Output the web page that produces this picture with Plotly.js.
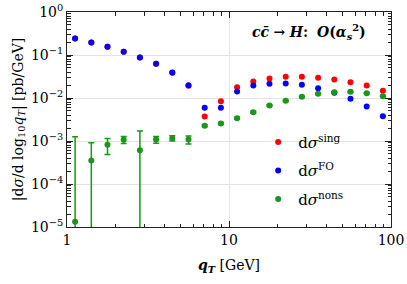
<!DOCTYPE html>
<html>
<head>
<meta charset="utf-8">
<script src="https://cdn.plot.ly/plotly-3.0.1.min.js"></script>
<style>html,body{margin:0;padding:0;background:#fff;}#chart{width:407px;height:284px;}</style>
</head>
<body>
<div id="chart"></div>
<script>
// bin centres in qT [GeV]
var qT = [1.122, 1.413, 1.778, 2.239, 2.818, 3.548, 4.467, 5.623, 7.079, 8.913,
          11.22, 14.13, 17.78, 22.39, 28.18, 35.48, 44.67, 56.23, 70.79, 89.13];
// dsigma^sing
var sing = [0.242, 0.195, 0.155, 0.119, 0.0875, 0.0624, 0.0385, 0.0193, 0.00372, 0.00843,
            0.0178, 0.0242, 0.0284, 0.0311, 0.0311, 0.0295, 0.0269, 0.0233, 0.0195, 0.0147];
// dsigma^FO
var fo = [0.242, 0.195, 0.155, 0.119, 0.0875, 0.0624, 0.0392, 0.0199, 0.00592, 0.00592,
          0.0142, 0.0195, 0.0214, 0.0217, 0.0203, 0.0169, 0.0132, 0.00958, 0.00634, 0.00378];
// dsigma^nons and its uncertainty
var nons = [1.32e-5, 3.52e-4, 8.16e-4, 1.07e-3, 6.11e-4, 1.08e-3, 1.16e-3, 1.08e-3, 2.26e-3, 2.55e-3,
            3.39e-3, 4.68e-3, 6.70e-3, 8.61e-3, 0.01067, 0.01253, 0.01365, 0.01393, 0.01294, 0.01101];
var nonsErr = [1.24e-3, 5.6e-4, 3.3e-4, 2.0e-4, 1.09e-3, 1.9e-4, 1.6e-4, 2.3e-4, 1.2e-4, 1.3e-4,
               2.0e-4, 2.6e-4, 2.8e-4, 3.2e-4, 3.6e-4, 4.0e-4, 4.2e-4, 4.2e-4, 4.0e-4, 3.6e-4];

var xTickVals = [1, 10, 100];
var xTickText = ['1', '10', '100'];
var yTickVals = [1, 0.1, 0.01, 0.001, 1e-4, 1e-5];
var yTickText = ['10<sup>0</sup>', '10<sup>\u22121</sup>', '10<sup>\u22122</sup>',
                 '10<sup>\u22123</sup>', '10<sup>\u22124</sup>', '10<sup>\u22125</sup>'];

function minorVals(lo, hi) {
  var v = [];
  for (var e = lo; e < hi; e++) for (var m = 2; m <= 9; m++) v.push(m * Math.pow(10, e));
  return v;
}

var FONT = 'DejaVu Serif';
var RED = '#ff0000', BLUE = '#0000ff', GREEN = '#189818';

var traces = [
  {x: qT, y: sing, type: 'scatter', mode: 'markers', name: 'd<i>σ</i><sup>sing</sup>',
   legendgroup: 'a', marker: {color: RED, size: 6}},
  {x: qT, y: fo, type: 'scatter', mode: 'markers', name: 'd<i>σ</i><sup>FO</sup>',
   legendgroup: 'b', marker: {color: BLUE, size: 6}},
  {x: qT, y: nons, type: 'scatter', mode: 'markers', name: 'd<i>σ</i><sup>nons</sup>',
   legendgroup: 'c', marker: {color: GREEN, size: 6},
   error_y: {type: 'data', array: nonsErr, symmetric: true, color: GREEN, thickness: 1.5, width: 3}}
];

var axisCommon = {
  type: 'log', showline: true, linecolor: '#222', linewidth: 1, mirror: 'allticks',
  ticks: 'inside', ticklen: 6, tickcolor: '#222', tickwidth: 1,
  showgrid: true, gridcolor: '#e3e3e3', gridwidth: 1, zeroline: false,
  tickmode: 'array', tickfont: {family: FONT, size: 14, color: '#000'}
};

var layout = {
  width: 407, height: 284,
  margin: {l: 67, r: 16, t: 12, b: 57},
  paper_bgcolor: '#fff', plot_bgcolor: '#fff',
  font: {family: FONT, color: '#000'},
  showlegend: true,
  legend: {x: 0.59, y: 0.471, xanchor: 'left', yanchor: 'top', bgcolor: 'rgba(0,0,0,0)',
           borderwidth: 0, tracegroupgap: 6, font: {family: FONT, size: 15, color: '#000'}},
  xaxis: Object.assign({}, axisCommon, {
    range: [0, 2], tickvals: xTickVals, ticktext: xTickText,
    minor: {tickmode: 'array', tickvals: minorVals(0, 2), ticks: 'inside', ticklen: 3.5,
            tickcolor: '#222', showgrid: false},
    title: {text: '<b><i>q<sub>T</sub></i></b> [GeV]', font: {family: FONT, size: 14, color: '#000'}, standoff: 13}
  }),
  yaxis: Object.assign({}, axisCommon, {
    range: [-5, 0], tickvals: yTickVals, ticktext: yTickText,
    minor: {tickmode: 'array', tickvals: minorVals(-5, 0), ticks: 'inside', ticklen: 3.5,
            tickcolor: '#222', showgrid: false},
    title: {text: '|d<i>σ</i>/d log<sub>10</sub><i>q<sub>T</sub></i>| [pb/GeV]',
            font: {family: FONT, size: 14, color: '#000'}, standoff: 4}
  }),
  annotations: [{
    xref: 'paper', yref: 'paper', x: 0.93, y: 0.907, xanchor: 'right', yanchor: 'middle',
    showarrow: false, font: {family: FONT, size: 14, color: '#000'},
    text: '<b><i>c</i></b><b><i>c\u0304</i></b> <b>\u2192</b> <b><i>H</i>:</b>  <b><i>O</i>(<i>α</i><sub><i>s</i></sub><sup>2</sup>)</b>'
  }]
};

Plotly.newPlot('chart', traces, layout, {displayModeBar: false, staticPlot: true});
</script>
</body>
</html>
